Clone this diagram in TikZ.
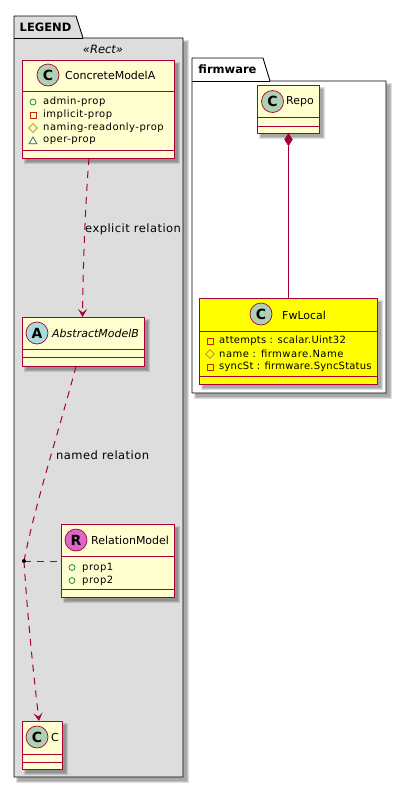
\documentclass[tikz,border=0pt]{standalone}
\usepackage{fontspec}
\setmainfont{DejaVu Sans}
\usetikzlibrary{arrows.meta,calc,shapes.geometric}
\definecolor{umlborder}{HTML}{A80036}
\definecolor{umlfill}{HTML}{FEFECE}
\definecolor{umlyellow}{HTML}{FFFF00}
\definecolor{spotc}{HTML}{ADD1B2}
\definecolor{spota}{HTML}{A9DCDF}
\definecolor{spotr}{HTML}{DD66CC}
\definecolor{pkgfill}{HTML}{DDDDDD}
\definecolor{pubcol}{HTML}{038048}
\definecolor{privcol}{HTML}{C82506}
\definecolor{protcol}{HTML}{B38D22}
\definecolor{packcol}{HTML}{1963A0}
\tikzset{
  classrect/.style={draw=umlborder,line width=1pt,inner sep=0pt,outer sep=0pt,anchor=north west},
  divider/.style={draw=umlborder,line width=1pt},
  pkgline/.style={draw=black,line width=.9pt,line join=round},
  spot/.style={circle,draw=umlborder,line width=.7pt,minimum size=22pt,inner sep=0pt,font=\fontsize{14}{14}\selectfont\bfseries},
  cname/.style={font=\fontsize{11}{13}\selectfont,inner sep=0pt},
  attr/.style={font=\fontsize{10}{12}\selectfont\addfontfeature{LetterSpace=5},anchor=west,inner sep=0pt},
  plabel/.style={font=\fontsize{11.5}{13}\selectfont\bfseries,inner sep=0pt},
  rel/.style={draw=umlborder,line width=1pt},
  reldash/.style={rel,dash pattern=on 7pt off 6pt},
  rellabel/.style={font=\fontsize{11.5}{13}\selectfont\addfontfeature{LetterSpace=4},inner sep=0pt,anchor=west},
  opentip/.style={-{Stealth[length=8pt,width=9pt,inset=3.5pt]}},
  icpub/.style={circle,draw=pubcol,line width=.7pt,minimum size=6pt,inner sep=0pt},
  icpriv/.style={rectangle,draw=privcol,line width=.8pt,minimum size=6pt,inner sep=0pt},
  icprot/.style={diamond,draw=protcol,line width=.7pt,minimum size=9pt,inner sep=0pt},
  icpack/.style={regular polygon,regular polygon sides=3,draw=packcol,line width=.7pt,minimum size=9pt,inner sep=0pt},
}
% soft drop shadow: x1 y1 x2 y2 of the shape
\newcommand{\softshadow}[4]{%
  \foreach \g in {2,1,0}{\fill[black,opacity=.13] ({#1+4-\g},{#2+4-\g}) rectangle ({#3+4+\g},{#4+4+\g});}}
% name x1 y1 x2 y2 div1 div2 fill
\newcommand{\classbox}[8]{%
  \softshadow{#2}{#3}{#4}{#5}
  \pgfmathsetmacro{\bw}{#4-#2}\pgfmathsetmacro{\bh}{#5-#3}
  \node[classrect,fill=#8,minimum width=\bw pt,minimum height=\bh pt] (#1) at (#2,#3) {};
  \draw[divider] (#2,#6) -- (#4,#6);
  \draw[divider] (#2,#7) -- (#4,#7);
}
\begin{document}
\begin{tikzpicture}[x=1pt,y=-1pt]
\useasboundingbox (0,0) rectangle (406,788);
\fill[white] (0,0) rectangle (406,788);
% LEGEND package
\softshadow{14}{38}{183}{777}
\path[pkgline,fill=pkgfill] (14,38) -- (14,16) -- (76,16) -- (83,38) -- (183,38) -- (183,777) -- (14,777) -- cycle;
\draw[pkgline] (14,38) -- (83,38);
\node[plabel] (legendlabel) at (45.5,27) {LEGEND};
\node[font=\fontsize{11.5}{13}\selectfont\itshape,inner sep=0pt] (stereo) at (103,49.5) {«Rect»};
% firmware package
\softshadow{192}{81}{386}{393}
\path[pkgline,fill=white] (192,81) -- (192,58) -- (263,58) -- (270,81) -- (386,81) -- (386,393) -- (192,393) -- cycle;
\draw[pkgline] (192,81) -- (270,81);
\node[plabel] (fwlabel) at (227.5,69) {firmware};
% ConcreteModelA
\classbox{cma}{22}{60}{174}{158}{91}{150}{umlfill}
\node[spot,fill=spotc] (cmaspot) at (48,75) {C};
\node[cname,anchor=west] (cmaname) at (65,75.5) {ConcreteModelA};
\node[icpub] (i1) at (33,102) {};
\node[attr] (a1) at (43,102) {admin-prop};
\node[icpriv] (i2) at (33,115) {};
\node[attr] (a2) at (43,115) {implicit-prop};
\node[icprot] (i3) at (33,128) {};
\node[attr] (a3) at (43,128) {naming-readonly-prop};
\node[icpack] (i4) at (33,141.5) {};
\node[attr] (a4) at (43,141) {oper-prop};
% AbstractModelB
\classbox{amb}{22}{317}{144}{366}{349}{357}{umlfill}
\node[spot,fill=spota] (ambspot) at (37,333) {A};
\node[cname,anchor=west,font=\fontsize{11}{13}\selectfont\itshape] (ambname) at (52,333.5) {AbstractModelB};
% RelationModel
\classbox{rm}{61}{524}{174}{597}{556}{589}{umlfill}
\node[spot,fill=spotr] (rmspot) at (76,540) {R};
\node[cname,anchor=west] (rmname) at (91,540.5) {RelationModel};
\node[icpub] (i5) at (72,567.5) {};
\node[attr] (a5) at (82,567.5) {prop1};
\node[icpub] (i6) at (72,580.5) {};
\node[attr] (a6) at (82,580.5) {prop2};
% C
\classbox{cc}{22}{721}{62}{769}{754}{762}{umlfill}
\node[spot,fill=spotc] (ccspot) at (37,737) {C};
\node[cname,anchor=west] (ccname) at (51,737.5) {C};
% Repo
\classbox{repo}{257}{85}{319}{133}{117}{126}{umlfill}
\node[spot,fill=spotc] (repospot) at (272.5,101.5) {C};
\node[cname,anchor=west] (reponame) at (286,102) {Repo};
% FwLocal
\classbox{fw}{199}{298}{377}{384}{331}{376}{umlyellow}
\node[spot,fill=spotc] (fwspot) at (261,314) {C};
\node[cname,anchor=west] (fwname) at (282,315) {FwLocal};
\node[icpriv] (i7) at (210,341) {};
\node[attr,font=\fontsize{10}{12}\selectfont\addfontfeature{LetterSpace=2.5}] (a7) at (219,341) {attempts : scalar.Uint32};
\node[icprot] (i8) at (210,354) {};
\node[attr] (a8) at (219,354) {name : firmware.Name};
\node[icpriv] (i9) at (210,367) {};
\node[attr,font=\fontsize{10}{12}\selectfont\addfontfeature{LetterSpace=2}] (a9) at (219,367) {syncSt : firmware.SyncStatus};
% connectors
\draw[reldash,opentip] ([xshift=-9pt]cma.south) .. controls +(-4,50) and (83,270) .. ([xshift=-.5pt]amb.north);
\node[rellabel] (l1) at (85,229) {explicit relation};
\coordinate (joint) at (24,561);
\draw[reldash] ([xshift=-7pt]amb.south) .. controls +(-14,55) and (36,500) .. (joint);
\draw[reldash,opentip] (joint) .. controls (27,610) and (33,670) .. ([xshift=-3pt]cc.north);
\draw[reldash] (joint) -- (rm.west |- joint);
\fill[black] (joint) circle (2pt);
\node[rellabel] (l2) at (56,455) {named relation};
\node[diamond,fill=umlborder,draw=umlborder,line width=.5pt,minimum width=8pt,minimum height=12.5pt,inner sep=0pt,anchor=north] (dm) at (288.5,133) {};
\draw[rel] (dm.south) -- (fw.north -| dm.south);
\end{tikzpicture}
\end{document}
